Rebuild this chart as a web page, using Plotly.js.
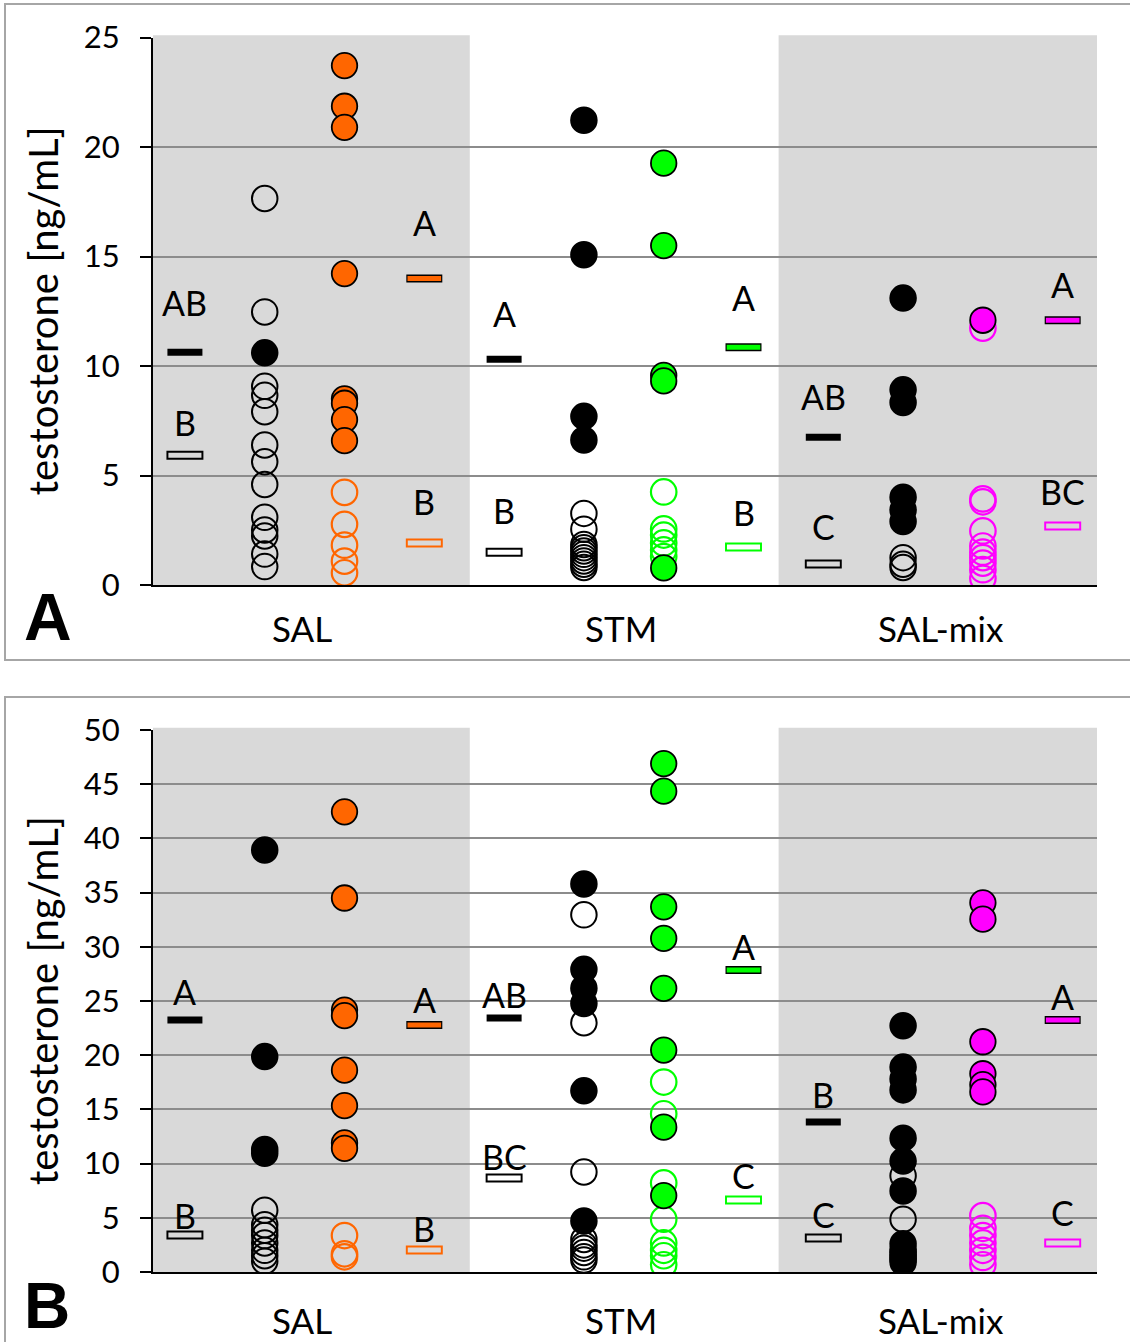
<!DOCTYPE html>
<html>
<head>
<meta charset="utf-8">
<script src="https://cdn.plot.ly/plotly-3.0.1.min.js"></script>
<style>html,body{margin:0;padding:0;background:#fff}#chart{width:1130px;height:1342px}</style>
</head>
<body>
<div id="chart"></div>
<script>
// ---------------- DATA ----------------
const groups = ['SAL', 'STM', 'SAL-mix'];
const groupColors = ['#FF6600', '#00FF00', '#FF00FF'];

// Panel A (per group: SAL, STM, SAL-mix)
const A_blackFilled = [[10.6], [21.22, 15.08, 7.7, 6.62], [13.1, 8.91, 8.33, 4.01, 3.43, 2.9]];
const A_blackHollow = [[17.65, 12.47, 9.07, 8.66, 7.91, 6.39, 5.63, 4.59, 3.09, 2.51, 2.24, 1.41, 0.84],
                       [3.27, 2.55, 1.85, 1.7, 1.55, 1.4, 1.25, 1.1, 0.95, 0.8],
                       [1.25, 0.95, 0.8]];
const A_colorFilled = [[23.72, 21.86, 20.9, 14.22, 8.5, 8.3, 7.55, 6.59], [19.26, 15.5, 9.57, 9.32, 0.78], [12.09]];
const A_colorHollow = [[4.23, 2.77, 1.82, 1.09, 0.56], [4.25, 2.56, 2.28, 1.92, 1.6, 1.3],
                       [11.73, 3.93, 3.8, 2.47, 1.78, 1.5, 1.25, 1.0, 0.7, 0.3]];
const A_meanBlackFilled = [10.63, 10.31, 6.75];
const A_meanBlackHollow = [5.93, 1.5, 0.96];
const A_meanColorFilled = [14.0, 10.86, 12.09];
const A_meanColorHollow = [1.92, 1.73, 2.69];
const A_lettersBlackFilled = ['AB', 'A', 'AB'];
const A_lettersBlackHollow = ['B', 'B', 'C'];
const A_lettersColorFilled = ['A', 'A', 'A'];
const A_lettersColorHollow = ['B', 'B', 'BC'];

// Panel B
const B_blackFilled = [[38.93, 19.87, 11.3, 10.95], [35.8, 27.92, 26.17, 24.77, 16.71, 4.7],
                       [22.72, 18.9, 17.8, 16.8, 12.35, 10.23, 7.48, 2.6, 2.1, 1.6, 1.2, 0.9]];
const B_blackHollow = [[5.7, 4.36, 3.86, 3.36, 2.68, 2.0, 1.5, 1.0],
                       [32.95, 22.99, 9.23, 3.0, 2.5, 2.2, 1.8, 1.4, 1.1],
                       [8.89, 4.87, 1.8, 1.3]];
const B_colorFilled = [[42.45, 34.5, 24.16, 23.66, 18.62, 15.34, 11.91, 11.41],
                       [46.9, 44.36, 33.69, 30.77, 26.17, 20.47, 13.36, 7.05],
                       [34.06, 32.55, 21.24, 18.29, 17.28, 16.61]];
const B_colorHollow = [[3.36, 1.68, 1.4], [17.52, 14.6, 8.22, 4.87, 2.68, 2.0, 1.5, 0.67],
                       [5.2, 4.03, 3.36, 2.68, 2.0, 1.34, 0.67]];
const B_meanBlackFilled = [23.25, 23.43, 13.84];
const B_meanBlackHollow = [3.41, 8.67, 3.14];
const B_meanColorFilled = [22.79, 27.86, 23.25];
const B_meanColorHollow = [2.03, 6.64, 2.68];
const B_lettersBlackFilled = ['A', 'AB', 'B'];
const B_lettersBlackHollow = ['B', 'BC', 'C'];
const B_lettersColorFilled = ['A', 'A', 'A'];
const B_lettersColorHollow = ['B', 'C', 'C'];

const yTitle = 'testosterone [ng/mL]';

// ---------------- LAYOUT CONFIG (pixels / styles) ----------------
const W = 1130, H = 1342;
const FONT = 'Lato, "Open Sans", sans-serif';
const GRAY = '#d9d9d9';
// vertical gap (px) between each mean marker and its letter
const A_shift = {bf: [50, 46, 41], bh: [33, 42, 37], cf: [56, 50, 36], ch: [41, 35, 35]};
const B_shift = {bf: [28, 24, 27], bh: [20, 22, 23], cf: [25, 24, 23], ch: [21, 25, 30]};

function py(px) { return 1 - px / H; }

const traces = [];
const annotations = [];
const shapes = [];

function colX(g, c) { return g * 4 + c; }

function buildPanel(xa, ya, d) {
  const xref = xa, yref = ya;
  // hollow points first, filled on top
  for (let g = 0; g < 3; g++) {
    traces.push({type: 'scatter', mode: 'markers', xaxis: xa, yaxis: ya,
      x: d.bh[g].map(() => colX(g, 2)), y: d.bh[g],
      marker: {symbol: 'circle', size: 25.5, color: 'rgba(0,0,0,0)', line: {color: '#000', width: 2}}});
    traces.push({type: 'scatter', mode: 'markers', xaxis: xa, yaxis: ya,
      x: d.ch[g].map(() => colX(g, 3)), y: d.ch[g],
      marker: {symbol: 'circle', size: 25.5, color: 'rgba(0,0,0,0)', line: {color: groupColors[g], width: 2.2}}});
  }
  for (let g = 0; g < 3; g++) {
    traces.push({type: 'scatter', mode: 'markers', xaxis: xa, yaxis: ya,
      x: d.bf[g].map(() => colX(g, 2)), y: d.bf[g],
      marker: {symbol: 'circle', size: 25.5, color: '#000', line: {color: '#000', width: 2}}});
    traces.push({type: 'scatter', mode: 'markers', xaxis: xa, yaxis: ya,
      x: d.cf[g].map(() => colX(g, 3)), y: d.cf[g],
      marker: {symbol: 'circle', size: 25.5, color: groupColors[g], line: {color: '#000', width: 1.8}}});
  }
  const bgs = groups.map((_, g) => g === 1 ? '#ffffff' : GRAY);
  const x1 = groups.map((_, g) => colX(g, 1));
  const x4 = groups.map((_, g) => colX(g, 4));
  // filled black means
  traces.push({type: 'scatter', mode: 'markers', xaxis: xa, yaxis: ya, x: x1, y: d.mbf,
    marker: {symbol: 'line-ew', size: 25, color: '#000', line: {color: '#000', width: 7}}});
  // hollow black means
  traces.push({type: 'scatter', mode: 'markers', xaxis: xa, yaxis: ya, x: x1, y: d.mbh,
    marker: {symbol: 'line-ew', size: 26.4, color: '#000', line: {color: '#000', width: 9}}});
  traces.push({type: 'scatter', mode: 'markers', xaxis: xa, yaxis: ya, x: x1, y: d.mbh,
    marker: {symbol: 'line-ew', size: 23.6, color: bgs, line: {color: bgs, width: 5}}});
  // filled colored means
  traces.push({type: 'scatter', mode: 'markers', xaxis: xa, yaxis: ya, x: x4, y: d.mcf,
    marker: {symbol: 'line-ew', size: 25.7, color: '#000', line: {color: '#000', width: 8}}});
  traces.push({type: 'scatter', mode: 'markers', xaxis: xa, yaxis: ya, x: x4, y: d.mcf,
    marker: {symbol: 'line-ew', size: 24, color: groupColors, line: {color: groupColors, width: 5}}});
  // hollow colored means
  traces.push({type: 'scatter', mode: 'markers', xaxis: xa, yaxis: ya, x: x4, y: d.mch,
    marker: {symbol: 'line-ew', size: 26.4, color: groupColors, line: {color: groupColors, width: 9}}});
  traces.push({type: 'scatter', mode: 'markers', xaxis: xa, yaxis: ya, x: x4, y: d.mch,
    marker: {symbol: 'line-ew', size: 23.6, color: bgs, line: {color: bgs, width: 5}}});

  // letters
  const sets = [['bf', x1, d.mbf, d.lbf], ['bh', x1, d.mbh, d.lbh], ['cf', x4, d.mcf, d.lcf], ['ch', x4, d.mch, d.lch]];
  sets.forEach(([k, xs, ys, ls]) => {
    for (let g = 0; g < 3; g++) {
      annotations.push({xref: xref, yref: yref, x: xs[g], y: ys[g], text: ls[g], showarrow: false,
        xanchor: 'center', yanchor: 'middle', yshift: d.shift[k][g],
        font: {family: FONT, size: 34, color: '#000'}});
    }
  });
  // category labels
  for (let g = 0; g < 3; g++) {
    annotations.push({xref: xref, yref: yref, x: colX(g, 2.47), y: 0, text: groups[g], showarrow: false,
      xanchor: 'center', yanchor: 'middle', yshift: d.catShift,
      font: {family: FONT, size: 35, color: '#000'}});
  }
  // y-axis title (rotated)
  annotations.push({xref: 'paper', yref: yref + ' domain', x: 43 / W, y: 0.5, text: yTitle, showarrow: false,
    textangle: -90, xanchor: 'center', yanchor: 'middle', font: {family: FONT, size: 40, color: '#000'}});
  // gray bands
  [[0.6, 4.57], [8.44, 12.43]].forEach(([a, b]) => {
    shapes.push({type: 'rect', xref: xref, yref: yref + ' domain', x0: a, x1: b, y0: 0, y1: 1.004,
      fillcolor: GRAY, line: {width: 0}, layer: 'below'});
  });
}

buildPanel('x', 'y', {bf: A_blackFilled, bh: A_blackHollow, cf: A_colorFilled, ch: A_colorHollow,
  mbf: A_meanBlackFilled, mbh: A_meanBlackHollow, mcf: A_meanColorFilled, mch: A_meanColorHollow,
  lbf: A_lettersBlackFilled, lbh: A_lettersBlackHollow, lcf: A_lettersColorFilled, lch: A_lettersColorHollow,
  shift: A_shift, catShift: -43});
buildPanel('x2', 'y2', {bf: B_blackFilled, bh: B_blackHollow, cf: B_colorFilled, ch: B_colorHollow,
  mbf: B_meanBlackFilled, mbh: B_meanBlackHollow, mcf: B_meanColorFilled, mch: B_meanColorHollow,
  lbf: B_lettersBlackFilled, lbh: B_lettersBlackHollow, lcf: B_lettersColorFilled, lch: B_lettersColorHollow,
  shift: B_shift, catShift: -48});

// panel frames
shapes.push({type: 'rect', xref: 'paper', yref: 'paper', x0: 5 / W, x1: 1.02, y0: py(660), y1: py(4),
  line: {color: '#a6a6a6', width: 2}, fillcolor: 'rgba(0,0,0,0)', layer: 'above'});
shapes.push({type: 'rect', xref: 'paper', yref: 'paper', x0: 5 / W, x1: 1.02, y0: -0.02, y1: py(697),
  line: {color: '#a6a6a6', width: 2}, fillcolor: 'rgba(0,0,0,0)', layer: 'above'});

// panel letters
annotations.push({xref: 'paper', yref: 'paper', x: 48 / W, y: py(617), text: '<b>A</b>', showarrow: false,
  xanchor: 'center', yanchor: 'middle', font: {family: '"Liberation Sans", Arial, sans-serif', size: 66, color: '#000'}});
annotations.push({xref: 'paper', yref: 'paper', x: 47 / W, y: py(1306), text: '<b>B</b>', showarrow: false,
  xanchor: 'center', yanchor: 'middle', font: {family: '"Liberation Sans", Arial, sans-serif', size: 64, color: '#000'}});

const xDom = [153 / W, 1097 / W];
function xaxisDef(anchor) {
  return {domain: xDom, range: [0.6, 12.43], anchor: anchor, showgrid: false, zeroline: false,
    showline: true, linecolor: '#000', linewidth: 2, ticks: '', showticklabels: false, fixedrange: true};
}
function yaxisDef(anchor, range, dtick, dom) {
  return {domain: dom, range: range, dtick: dtick, anchor: anchor, showgrid: true, gridcolor: '#8c8c8c', gridwidth: 2,
    zeroline: false, showline: true, linecolor: '#000', linewidth: 2, ticks: 'outside', ticklen: 11,
    tickwidth: 2, tickcolor: '#000', ticklabelstandoff: 14,
    tickfont: {family: FONT, size: 31, color: '#000'}, fixedrange: true};
}

const layout = {
  width: W, height: H, margin: {l: 0, r: 0, t: 0, b: 0},
  paper_bgcolor: '#fff', plot_bgcolor: 'rgba(0,0,0,0)', showlegend: false,
  xaxis: xaxisDef('y'),
  yaxis: yaxisDef('x', [0, 25], 5, [py(585), py(37.5)]),
  xaxis2: xaxisDef('y2'),
  yaxis2: yaxisDef('x2', [0, 50], 5, [py(1272), py(730)]),
  shapes: shapes, annotations: annotations, hovermode: false
};

Plotly.newPlot('chart', traces, layout, {staticPlot: true, displayModeBar: false});
</script>
</body>
</html>
